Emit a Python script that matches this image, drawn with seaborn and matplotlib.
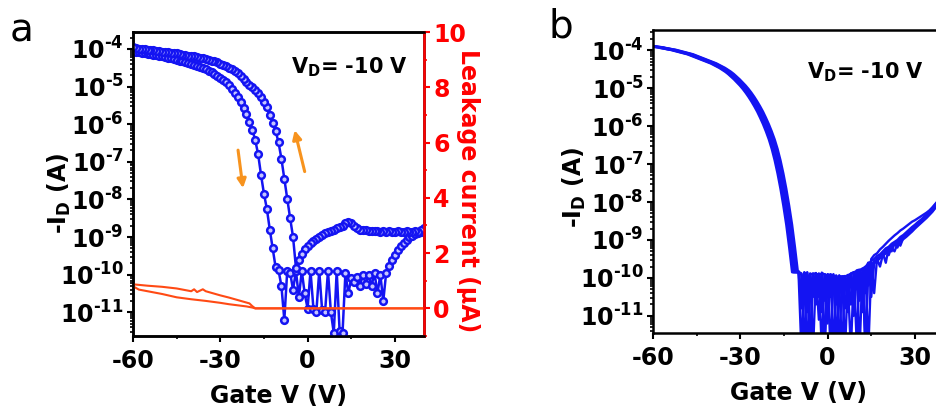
import numpy as np
import pandas as pd
import matplotlib
matplotlib.use("Agg")
import matplotlib.pyplot as plt
import seaborn as sns
from matplotlib.ticker import FixedLocator, FixedFormatter, NullFormatter

# ---------------- data ----------------
# panel a : one hysteresis loop, log10(-I_D) at 1 V steps
gate_fwd = np.arange(-60, 41, 1)
logI_fwd = [
    -4.07, -4.08, -4.09, -4.10, -4.11, -4.13, -4.14, -4.15, -4.17, -4.18,
    -4.20, -4.21, -4.23, -4.25, -4.27, -4.29, -4.31, -4.33, -4.35, -4.37,
    -4.40, -4.42, -4.45, -4.48, -4.51, -4.54, -4.58, -4.62, -4.66, -4.71,
    -4.76, -4.82, -4.89, -4.97, -5.06, -5.17, -5.29, -5.42, -5.57, -5.74,
    -5.93, -6.15, -6.42, -6.80, -7.35, -7.85, -8.25, -8.80, -9.30, -9.80,
    -9.88, -10.3, -11.2, -9.90, -9.95, -10.4, -9.90, -10.6, -9.90, -10.5,
    -10.9, -9.90, -10.9, -11.0, -9.90, -10.95, -11.0, -9.90, -11.0, -11.55,
    -9.90, -11.5, -11.55, -9.95, -10.5, -10.1, -10.2, -10.05, -10.3, -10.0,
    -10.25, -10.0, -10.3, -9.95, -10.5, -10.0, -10.7, -9.95, -9.78, -9.60,
    -9.47, -9.35, -9.25, -9.15, -9.07, -9.00, -8.97, -8.93, -8.90, -8.86,
    -8.80]
gate_rev = np.arange(40, -61, -1)
logI_rev = [
    -8.75, -8.82, -8.86, -8.85, -8.87, -8.86, -8.85, -8.87, -8.86, -8.85,
    -8.86, -8.87, -8.85, -8.86, -8.85, -8.86, -8.84, -8.85, -8.84, -8.83,
    -8.82, -8.82, -8.80, -8.76, -8.70, -8.63, -8.59, -8.63, -8.70, -8.72,
    -8.75, -8.80, -8.83, -8.86, -8.90, -8.95, -9.00, -9.06, -9.11, -9.17,
    -9.24, -9.33, -9.45, -9.62, -9.82, -9.00, -8.50, -7.98, -7.45, -6.92,
    -6.48, -6.18, -5.97, -5.76, -5.55, -5.40, -5.28, -5.18, -5.10, -5.02,
    -4.95, -4.88, -4.80, -4.72, -4.65, -4.59, -4.54, -4.50, -4.46, -4.42,
    -4.39, -4.36, -4.33, -4.31, -4.29, -4.27, -4.25, -4.23, -4.22, -4.20,
    -4.19, -4.18, -4.16, -4.15, -4.14, -4.12, -4.11, -4.10, -4.09, -4.08,
    -4.07, -4.06, -4.05, -4.04, -4.03, -4.02, -4.01, -4.00, -3.99, -3.98,
    -3.94]

# leakage current (uA), right axis of panel a
leak_fwd_V = [-60, -58, -55, -50, -45, -40, -35, -30, -27, -24, -21, -19, -18, 40]
leak_fwd = [0.80, 0.68, 0.62, 0.52, 0.40, 0.33, 0.27, 0.20, 0.15, 0.11, 0.07, 0.03, 0.0, 0.0]
leak_rev_V = [-60, -55, -50, -45, -41, -40, -39, -38, -37, -36, -35, -33, -30, -27,
              -24, -21, -20, -19, -18, 40]
leak_rev = [0.87, 0.82, 0.78, 0.72, 0.64, 0.62, 0.69, 0.59, 0.64, 0.69, 0.62, 0.56,
            0.47, 0.39, 0.30, 0.21, 0.18, 0.08, 0.0, 0.0]

# direction arrows (tail V, tail log I, head V, head log I)
arrow_down = [-23.9, -6.69, -22.2, -7.70]
arrow_up = [-1.0, -7.26, -4.45, -6.16]

# panel b : repeated cycles
gate_b_on = np.arange(-60, -10, 1)
logI_b_on = [
    -3.90, -3.91, -3.92, -3.93, -3.95, -3.96, -3.98, -3.99, -4.01, -4.03,
    -4.05, -4.07, -4.09, -4.11, -4.14, -4.17, -4.20, -4.23, -4.26, -4.29,
    -4.32, -4.35, -4.39, -4.43, -4.47, -4.52, -4.57, -4.63, -4.70, -4.77,
    -4.85, -4.93, -5.02, -5.12, -5.23, -5.35, -5.48, -5.62, -5.78, -5.95,
    -6.14, -6.35, -6.60, -6.90, -7.25, -7.65, -8.10, -8.60, -9.20, -9.85]
cycle_shift_b = [-1.2, -0.8, -0.4, 0.0, 0.4, 0.8]
gate_b_off = np.arange(-10, 41, 1)
floor_b = [
    [-9.85, -9.9, -10.6, -9.85, -11.8, -9.9, -10.2, -9.88, -10.9, -9.9, -9.95, -11.9, -9.9,
     -10.3, -9.95, -9.98, -10.8, -9.96, -9.9, -9.85, -11.7, -9.8, -9.75, -10.4, -9.65],
    [-9.82, -10.8, -9.85, -10.1, -9.9, -11.9, -9.88, -10.5, -9.86, -9.92, -11.2, -9.9, -9.95,
     -11.8, -9.93, -10.2, -9.95, -10.9, -9.88, -9.85, -9.82, -10.6, -9.78, -11.8, -9.62],
    [-9.84, -9.88, -11.9, -9.86, -10.4, -9.9, -9.87, -11.1, -9.92, -10.6, -9.9, -9.93, -10.4,
     -9.95, -11.9, -9.96, -9.98, -10.3, -9.9, -11.0, -9.8, -9.78, -10.9, -9.72, -9.6],
    [-9.83, -10.3, -9.86, -9.9, -11.9, -9.88, -10.7, -9.9, -9.9, -11.9, -9.92, -10.5, -9.95,
     -9.94, -10.2, -11.9, -9.97, -9.92, -10.7, -9.86, -9.84, -11.9, -9.76, -9.7, -10.2],
    [-9.86, -11.9, -9.87, -10.9, -9.9, -9.89, -10.2, -9.91, -11.9, -9.9, -10.4, -9.93, -9.95,
     -10.7, -9.96, -9.97, -11.9, -9.93, -9.89, -10.4, -9.83, -9.8, -10.6, -9.74, -11.9],
    [-9.85, -9.9, -10.2, -11.9, -9.88, -10.5, -9.9, -9.9, -10.3, -11.6, -9.92, -9.95, -11.9,
     -9.94, -10.5, -9.96, -9.95, -10.2, -11.9, -9.87, -10.3, -9.8, -9.77, -11.9, -9.6]]
rise_b = [
    [-9.55, -9.50, -9.42, -9.38, -9.30, -9.22, -9.18, -9.10, -9.05, -9.00, -8.92, -8.87, -8.80,
     -8.73, -8.66, -8.60, -8.53, -8.47, -8.40, -8.33, -8.25, -8.17, -8.07, -7.98, -7.88, -7.78],
    [-9.70, -9.55, -9.60, -9.40, -9.45, -9.28, -9.22, -9.30, -9.10, -9.05, -9.00, -8.95, -8.86,
     -8.80, -8.72, -8.66, -8.58, -8.52, -8.45, -8.38, -8.30, -8.22, -8.12, -8.03, -7.93, -7.83],
    [-9.60, -10.4, -9.48, -9.45, -9.35, -9.60, -9.20, -9.15, -9.08, -9.20, -8.97, -8.90, -8.84,
     -8.76, -8.70, -8.63, -8.56, -8.50, -8.43, -8.36, -8.28, -8.20, -8.10, -8.00, -7.90, -7.80],
    [-9.50, -9.40, -9.35, -9.25, -9.18, -9.10, -9.02, -8.95, -8.88, -8.82, -8.75, -8.70, -8.64,
     -8.58, -8.52, -8.48, -8.43, -8.38, -8.33, -8.28, -8.22, -8.14, -8.05, -7.96, -7.86, -7.76],
    [-9.75, -9.58, -9.50, -9.70, -9.38, -9.30, -9.40, -9.18, -9.12, -9.06, -9.15, -8.95, -8.88,
     -8.82, -8.76, -8.68, -8.60, -8.54, -8.47, -8.40, -8.32, -8.24, -8.14, -8.05, -7.95, -7.85],
    [-10.5, -9.62, -9.55, -9.48, -9.42, -9.35, -9.28, -9.22, -9.30, -9.10, -9.04, -8.98, -8.92,
     -8.85, -8.78, -8.70, -8.63, -8.56, -8.49, -8.42, -8.34, -8.26, -8.16, -8.07, -7.97, -7.87]]

decades = [-4, -5, -6, -7, -8, -9, -10, -11]
x_major = [-60, -30, 0, 30]
x_minor = [-45, -15, 15]
leak_ticks = [0, 2, 4, 6, 8, 10]
leak_minor = [-1, 1, 3, 5, 7, 9]

# ---------------- style ----------------
sns.set_theme(style="ticks")
plt.rcParams["font.family"] = ["DejaVu Sans"]
plt.rcParams.update({
    "mathtext.fontset": "dejavusans",
    "text.color": "black", "axes.labelcolor": "black",
    "xtick.color": "black", "ytick.color": "black",
    "axes.edgecolor": "black",
})
BLUE = "#1414f2"
RED = "#ff0000"
LEAK = "#ff4a14"
ORANGE = "#f7931e"
FS = 17
HY = "\u2010"

fig = plt.figure(figsize=(9.36, 4.09), dpi=100)
axa = fig.add_axes([133 / 936, (409 - 336) / 409, 291 / 936, 304 / 409])
axb = fig.add_axes([653 / 936, (409 - 333) / 409, 291 / 936, 303 / 409])

def style_log_axis(ax, ylo, yhi, vd_x, vd_y):
    ax.set_yscale("log")
    ax.set_xlim(-60, 40)
    ax.set_ylim(10 ** ylo, 10 ** yhi)
    ax.xaxis.set_major_locator(FixedLocator(x_major))
    ax.xaxis.set_minor_locator(FixedLocator(x_minor))
    ax.set_xticklabels([str(v) for v in x_major])
    ax.yaxis.set_major_locator(FixedLocator([10.0 ** d for d in decades]))
    ax.yaxis.set_major_formatter(FixedFormatter(
        ["$\\mathbf{10^{" + HY + str(-d) + "}}$" for d in decades]))
    minors = [m * 10.0 ** d for d in range(-12, -3) for m in range(2, 10)]
    ax.yaxis.set_minor_locator(FixedLocator(minors))
    ax.yaxis.set_minor_formatter(NullFormatter())
    for s in ax.spines.values():
        s.set_linewidth(1.8)
        s.set_color("black")
    ax.tick_params(which="major", direction="out", length=4.5, width=1.5,
                   labelsize=FS, pad=2)
    ax.tick_params(which="minor", direction="out", length=2.5, width=1.2)
    ax.tick_params(axis="x", which="major", pad=5)
    for lab in ax.get_xticklabels() + ax.get_yticklabels():
        lab.set_fontweight("bold")
    ax.set_xlabel("Gate V (V)", fontsize=FS, fontweight="bold", labelpad=8)
    ax.set_ylabel(r"-I$_\mathbf{D}$ (A)", fontsize=FS, fontweight="bold")
    ax.text(vd_x, vd_y, r"V$_\mathbf{D}$= -10 V", transform=ax.transAxes,
            fontsize=15, fontweight="bold", ha="right", va="center")

# ---------------- panel a ----------------
dfa = pd.concat([
    pd.DataFrame({"V": gate_fwd, "logI": logI_fwd, "sweep": "fwd"}),
    pd.DataFrame({"V": gate_rev, "logI": logI_rev, "sweep": "rev"}),
], ignore_index=True)
dfa["I"] = 10.0 ** dfa["logI"]
sns.lineplot(data=dfa, x="V", y="I", units="sweep", estimator=None, sort=False,
             ax=axa, color=BLUE, lw=1.8, marker="o", markersize=4.8,
             markerfacecolor="#c4c4ff", markeredgecolor=BLUE, markeredgewidth=1.8,
             legend=False, zorder=3)
style_log_axis(axa, -11.63, -3.55, 0.945, 0.885)
axa.yaxis.set_label_coords(-0.205, 0.47)

for a in (arrow_down, arrow_up):
    axa.annotate("", xy=(a[2], 10 ** a[3]), xytext=(a[0], 10 ** a[1]),
                 arrowprops=dict(arrowstyle="-|>", color=ORANGE, lw=2.2,
                                 mutation_scale=13, shrinkA=0, shrinkB=0))

ax2 = axa.twinx()
dfl = pd.concat([
    pd.DataFrame({"V": leak_fwd_V, "L": leak_fwd, "sweep": "fwd"}),
    pd.DataFrame({"V": leak_rev_V, "L": leak_rev, "sweep": "rev"}),
], ignore_index=True)
sns.lineplot(data=dfl, x="V", y="L", units="sweep", estimator=None, sort=False,
             ax=ax2, color=LEAK, lw=1.5, legend=False)
ax2.set_xlim(-60, 40)
ax2.set_ylim(-1, 10)
ax2.yaxis.set_major_locator(FixedLocator(leak_ticks))
ax2.yaxis.set_minor_locator(FixedLocator(leak_minor))
ax2.set_ylabel("")
ax2.tick_params(axis="y", which="major", colors=RED, direction="out", length=4.5,
                width=1.5, labelsize=FS, pad=2)
ax2.tick_params(axis="y", which="minor", colors=RED, direction="out", length=2.5, width=1.2)
for lab in ax2.get_yticklabels():
    lab.set_fontweight("bold")
    lab.set_color(RED)
for k, s in ax2.spines.items():
    s.set_linewidth(1.8)
    s.set_color(RED if k == "right" else "black")
fig.text(468 / 936, (409 - 191) / 409, "Leakage current (\u00b5A)", rotation=270,
         ha="center", va="center", color=RED, fontsize=FS, fontweight="bold")

# ---------------- panel b ----------------
frames = []
for k in range(len(cycle_shift_b)):
    frames.append(pd.DataFrame({"V": gate_b_on + cycle_shift_b[k], "logI": logI_b_on,
                                "cycle": k}))
    frames.append(pd.DataFrame({"V": gate_b_off, "logI": floor_b[k] + rise_b[k],
                                "cycle": k}))
dfb = pd.concat(frames, ignore_index=True)
dfb["I"] = 10.0 ** dfb["logI"]
sns.lineplot(data=dfb, x="V", y="I", units="cycle", estimator=None, sort=False,
             ax=axb, color=BLUE, lw=1.7, legend=False)
style_log_axis(axb, -11.45, -3.47, 0.93, 0.86)
axb.yaxis.set_label_coords(-0.225, 0.48)

# panel letters
fig.text(10 / 936, (409 - 41) / 409, "a", fontsize=28, ha="left", va="baseline")
fig.text(549 / 936, (409 - 38) / 409, "b", fontsize=28, ha="left", va="baseline")

fig.savefig("out.png", dpi=100)
